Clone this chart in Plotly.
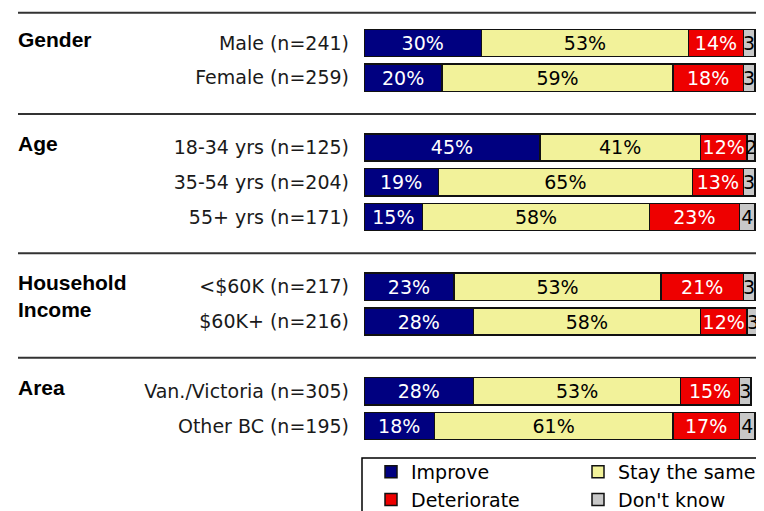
import plotly.graph_objects as go

# ---- data ----
categories = ["Male (n=241)", "Female (n=259)",
              "18-34 yrs (n=125)", "35-54 yrs (n=204)", "55+ yrs (n=171)",
              "<$60K (n=217)", "$60K+ (n=216)",
              "Van./Victoria (n=305)", "Other BC (n=195)"]
groups = ["Gender", "Age", "Household<br>Income", "Area"]
group_sizes = [2, 3, 2, 2]
improve = [30, 20, 45, 19, 15, 23, 28, 28, 18]
stay = [53, 59, 41, 65, 58, 53, 58, 53, 61]
deteriorate = [14, 18, 12, 13, 23, 21, 12, 15, 17]
dont_know = [3, 3, 2, 3, 4, 3, 3, 3, 4]
series_names = ["Improve", "Stay the same", "Deteriorate", "Don't know"]

# ---- layout helpers (page is offset by the 8px body margin) ----
OFF = 8
W, H = 764 - OFF, 511 - OFF
L, R = 364 - OFF, 1
PLOT_W = W - L - R
PX_PER_UNIT = 3.91
PITCH = 34.82
FIRST_CENTER = 43 - OFF

slots = []
group_starts = []
pos = 0
for gsz in group_sizes:
    group_starts.append(pos)
    for _ in range(gsz):
        slots.append(pos)
        pos += 1
    pos += 1

def px_to_paper_x(px):  # px in page coordinates
    return (px - OFF - L) / PLOT_W

def px_to_paper_y(py):  # py in page coordinates
    return 1 - (py - OFF) / H

y_top = -FIRST_CENTER / PITCH
y_bot = (H - FIRST_CENTER) / PITCH

FONT = "DejaVu Sans"
colors = ["#000080", "#F2F29A", "#EE0000", "#C8C8C8"]
text_colors = ["white", "black", "white", "black"]
legends = ["legend", "legend2", "legend", "legend2"]
templates = ["%{x}%", "%{x}%", "%{x}%", "%{x}"]

fig = go.Figure()
for name, vals, col, tcol, lg, tpl in zip(series_names,
                                          [improve, stay, deteriorate, dont_know],
                                          colors, text_colors, legends, templates):
    fig.add_trace(go.Bar(
        name=name, x=vals, y=slots, orientation="h", width=0.78,
        marker=dict(color=col, line=dict(color="#111111", width=1.5)),
        texttemplate=tpl, textposition="inside", insidetextanchor="middle",
        constraintext="none", textangle=0,
        textfont=dict(family=FONT, size=19, color=tcol),
        legend=lg, hoverinfo="skip",
    ))

shapes = []
sep_ys = [-0.87] + [s - 1 + 0.04 for s in group_starts[1:]]
for yv in sep_ys:
    shapes.append(dict(type="line", xref="paper", yref="y",
                       x0=px_to_paper_x(18), x1=1.01, y0=yv, y1=yv,
                       line=dict(color="#333333", width=2)))
# legend frame
shapes.append(dict(type="rect", xref="paper", yref="paper",
                   x0=px_to_paper_x(362), x1=1.02,
                   y0=px_to_paper_y(458), y1=-0.05,
                   line=dict(color="black", width=1.5), fillcolor="rgba(0,0,0,0)"))

annotations = []
for g, s in zip(groups, group_starts):
    annotations.append(dict(
        text="<b>%s</b>" % g, xref="paper", yref="y",
        x=px_to_paper_x(16), y=s - 0.5, xanchor="left", yanchor="top",
        align="left", showarrow=False,
        font=dict(family="Liberation Sans", size=21, color="black")))

leg_common = dict(yanchor="top", xanchor="left", orientation="v",
                  bgcolor="rgba(0,0,0,0)", tracegroupgap=0, traceorder="normal",
                  font=dict(family=FONT, size=19, color="black"))

fig.update_layout(
    width=W, height=H,
    margin=dict(l=L, r=R, t=0, b=0, autoexpand=False),
    paper_bgcolor="white", plot_bgcolor="white",
    barmode="stack",
    xaxis=dict(range=[0, PLOT_W / PX_PER_UNIT], visible=False, fixedrange=True),
    yaxis=dict(range=[y_bot, y_top], tickvals=slots, ticktext=categories,
               showgrid=False, zeroline=False, showline=False, ticks="",
               ticklabelstandoff=14, automargin=False,
               tickfont=dict(family=FONT, size=19, color="#1a1a1a")),
    shapes=shapes,
    annotations=annotations,
    showlegend=True,
    legend=dict(x=px_to_paper_x(371), y=px_to_paper_y(453), **leg_common),
    legend2=dict(x=px_to_paper_x(578), y=px_to_paper_y(453), **leg_common),
)

fig.write_html("out.html")
